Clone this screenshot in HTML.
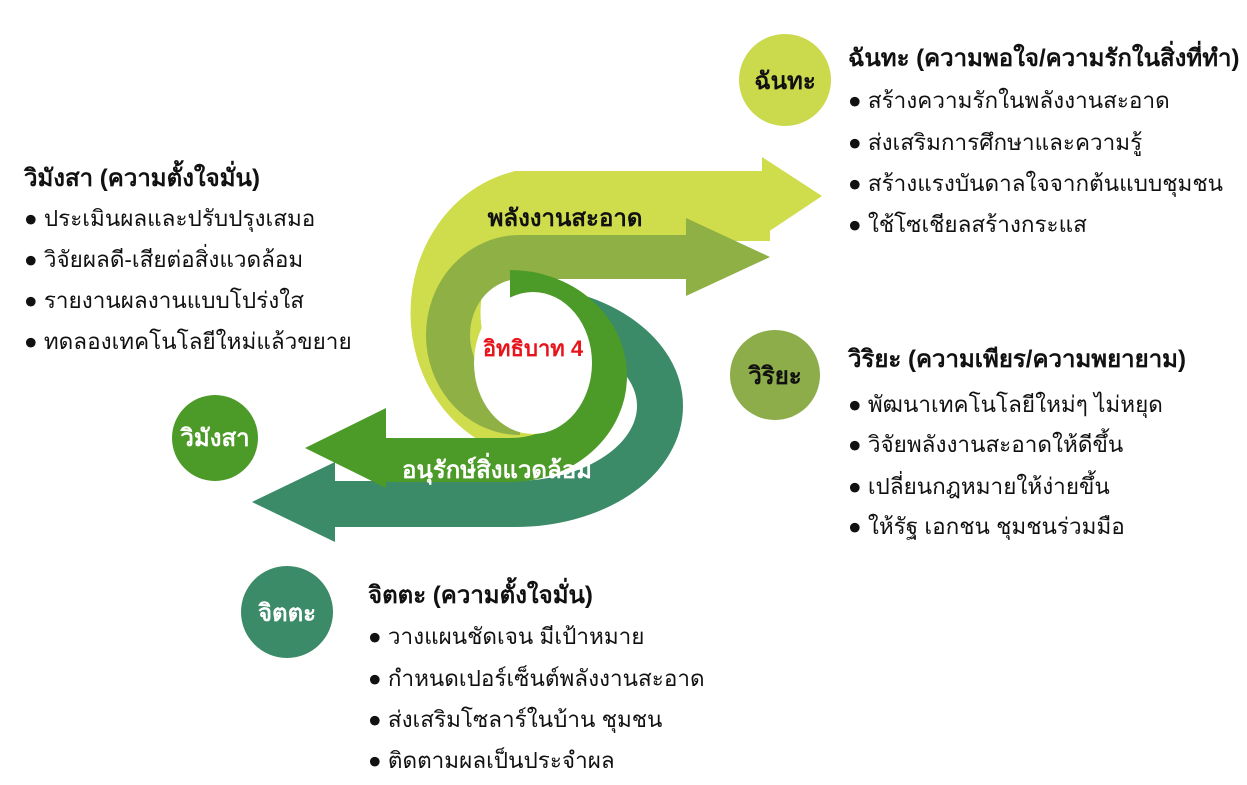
<!DOCTYPE html>
<html><head><meta charset="utf-8"><style>
html,body{margin:0;padding:0;background:#fff;width:1247px;height:785px;overflow:hidden}
svg text{font-family:"Liberation Sans","Noto Sans CJK SC",sans-serif}
.t{font-size:24px;font-weight:bold;fill:#111}
.i{font-size:22.5px;fill:#111}
</style></head><body>
<svg width="1247" height="785" viewBox="0 0 1247 785" xmlns="http://www.w3.org/2000/svg">
<!-- teal arrow -->
<path d="M515,308 A145,98 0 0 1 515,504 L330,504" fill="none" stroke="#3b8a68" stroke-width="46"/>
<polygon points="252,502 335,462 335,542" fill="#3b8a68"/>
<!-- yellow arrow -->
<path d="M770,206 L520,206 A97,110 0 0 0 520,420 L545,420" fill="none" stroke="#cfdc4c" stroke-width="70"/>
<polygon points="822,196 762,157 762,236" fill="#cfdc4c"/>
<!-- olive arrow -->
<path d="M690,257 L520,257 A72,78 0 0 0 520,413" fill="none" stroke="#8fb045" stroke-width="44"/>
<polygon points="770,257 686,218 686,296" fill="#8fb045"/>
<!-- dark green arrow -->
<path d="M510,292 A95,84 0 0 1 510,460 L380,460" fill="none" stroke="#4c9a28" stroke-width="44"/>
<polygon points="305,448 386,408 386,488" fill="#4c9a28"/>
<!-- hole -->
<ellipse cx="533" cy="363" rx="59" ry="71" fill="#fff"/>
<text x="533" y="356" text-anchor="middle" font-size="22" font-weight="bold" fill="#e8141c">อิทธิบาท 4</text>
<text x="565" y="226" text-anchor="middle" font-size="24" font-weight="bold" fill="#111">พลังงานสะอาด</text>
<text x="497" y="478" text-anchor="middle" font-size="24" font-weight="bold" fill="#fff">อนุรักษ์สิ่งแวดล้อม</text>
<!-- circles -->
<circle cx="785" cy="80" r="46" fill="#cbd94c"/>
<text x="785" y="89" text-anchor="middle" class="t">ฉันทะ</text>
<circle cx="775" cy="375" r="45" fill="#8cad4a"/>
<text x="775" y="384" text-anchor="middle" class="t">วิริยะ</text>
<circle cx="215" cy="438" r="43" fill="#4c9a28"/>
<text x="215" y="446" text-anchor="middle" class="t" style="fill:#fff">วิมังสา</text>
<circle cx="287" cy="612" r="46" fill="#3b8a68"/>
<text x="287" y="621" text-anchor="middle" class="t" style="fill:#fff">จิตตะ</text>
<!-- texts -->
<g>
<text x="848" y="66" class="t">ฉันทะ (ความพอใจ/ความรักในสิ่งที่ทำ)</text>
<text x="848" y="108" class="i">●  สร้างความรักในพลังงานสะอาด</text>
<text x="848" y="150" class="i">●  ส่งเสริมการศึกษาและความรู้</text>
<text x="848" y="191" class="i">●  สร้างแรงบันดาลใจจากต้นแบบชุมชน</text>
<text x="848" y="232" class="i">●  ใช้โซเชียลสร้างกระแส</text>
</g>
<g>
<text x="24" y="186" class="t">วิมังสา (ความตั้งใจมั่น)</text>
<text x="24" y="226" class="i">●  ประเมินผลและปรับปรุงเสมอ</text>
<text x="24" y="267" class="i">●  วิจัยผลดี-เสียต่อสิ่งแวดล้อม</text>
<text x="24" y="308" class="i">●  รายงานผลงานแบบโปร่งใส</text>
<text x="24" y="349" class="i">●  ทดลองเทคโนโลยีใหม่แล้วขยาย</text>
</g>
<g>
<text x="848" y="367" class="t">วิริยะ (ความเพียร/ความพยายาม)</text>
<text x="848" y="412" class="i">●  พัฒนาเทคโนโลยีใหม่ๆ ไม่หยุด</text>
<text x="848" y="452" class="i">●  วิจัยพลังงานสะอาดให้ดีขึ้น</text>
<text x="848" y="494" class="i">●  เปลี่ยนกฎหมายให้ง่ายขึ้น</text>
<text x="848" y="534" class="i">●  ให้รัฐ เอกชน ชุมชนร่วมมือ</text>
</g>
<g>
<text x="368" y="603" class="t">จิตตะ (ความตั้งใจมั่น)</text>
<text x="368" y="644" class="i">●  วางแผนชัดเจน มีเป้าหมาย</text>
<text x="368" y="686" class="i">●  กำหนดเปอร์เซ็นต์พลังงานสะอาด</text>
<text x="368" y="727" class="i">●  ส่งเสริมโซลาร์ในบ้าน ชุมชน</text>
<text x="368" y="768" class="i">●  ติดตามผลเป็นประจำผล</text>
</g>
</svg>
</body></html>
